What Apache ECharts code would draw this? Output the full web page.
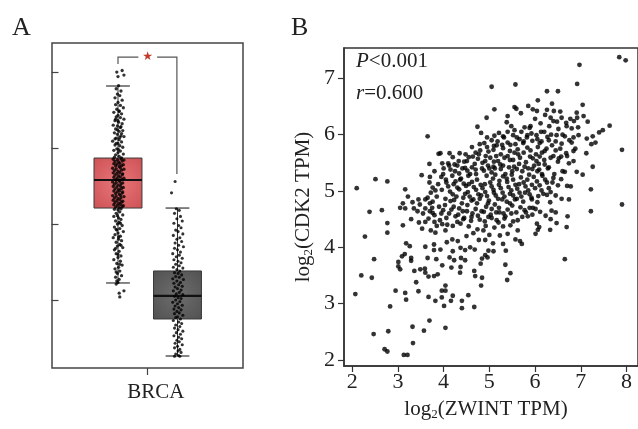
<!DOCTYPE html>
<html><head><meta charset="utf-8">
<script src="https://cdn.jsdelivr.net/npm/echarts@6/dist/echarts.min.js"></script>
<style>html,body{margin:0;padding:0;background:#fff}#c{width:638px;height:429px}</style>
</head><body><div id="c"></div>
<script>
// ---------- Panel A data ----------
const categoryA = ['BRCA'];
const groupPos = [1, 2];
// [low whisker, Q1, median, Q3, high whisker]
const boxStats = [[1.224, 2.21, 2.579, 2.868, 3.816], [0.263, 0.75, 1.053, 1.382, 2.21]];
const yTicksA = [1, 2, 3, 4];
const sigLabel = '★';
const redPoints = [
[0.98,4.00],[1.07,4.02],[1.10,3.96],[1.00,3.94],
[1.01,3.82],[0.97,3.78],[1.05,3.75],[0.99,3.71],[1.03,3.69],[0.95,3.66],[1.07,3.63],[1.00,3.60],[0.96,3.57],[1.04,3.56],[1.09,3.53],[0.98,3.51],[1.02,3.49],[0.93,3.47],[1.06,3.45],[1.00,3.43],[0.97,3.41],[1.04,3.40],[1.10,3.38],[0.95,3.36],[1.01,3.34],[1.07,3.32],[0.92,3.30],[0.99,3.29],[1.04,3.27],[0.96,3.25],[1.08,3.23],[1.02,3.22],[0.94,3.20],[0.99,3.18],[1.05,3.16],[1.10,3.15],[0.97,3.13],[1.02,3.11],[0.91,3.09],[1.06,3.08],[1.00,3.06],[0.95,3.04],[1.03,3.03],[1.08,3.01],[0.98,2.99],[0.93,2.97],[1.04,2.96],[1.00,2.94],[1.09,2.92],[0.96,2.91],[1.02,2.89],[0.94,2.88],[1.06,2.87],
[1.02,3.48],[0.96,3.38],[1.05,3.28],[0.99,3.24],[1.03,3.14],[0.97,3.06],[1.01,2.98],[1.06,3.19],[0.95,3.12],[1.00,3.36],
[0.92,2.852],[0.99,2.846],[1.05,2.857],[1.10,2.841],[0.95,2.823],[1.01,2.816],[1.07,2.828],[0.93,2.794],[0.98,2.787],[1.03,2.798],[1.09,2.781],[0.96,2.763],[1.02,2.757],[1.06,2.768],[0.91,2.734],[0.97,2.726],[1.04,2.738],[1.10,2.722],[0.94,2.703],[1.00,2.697],[1.06,2.708],[0.92,2.674],[0.98,2.667],[1.03,2.678],[1.08,2.661],[0.95,2.643],[1.01,2.636],[1.07,2.648],[0.93,2.614],[0.99,2.607],[1.04,2.618],[1.10,2.602],[0.96,2.583],[1.02,2.577],[1.07,2.588],[0.91,2.554],[0.97,2.547],[1.03,2.558],[1.08,2.541],[0.94,2.523],[1.00,2.516],[1.05,2.527],[0.92,2.494],[0.98,2.487],[1.04,2.498],[1.09,2.481],[0.95,2.463],[1.01,2.456],[1.06,2.467],[0.93,2.434],[0.99,2.427],[1.03,2.438],[1.08,2.421],[0.96,2.403],[1.02,2.396],[1.07,2.407],[0.91,2.374],[0.97,2.367],[1.04,2.378],[1.10,2.361],[0.94,2.343],[1.00,2.336],[1.05,2.347],[0.92,2.314],[0.98,2.307],[1.03,2.318],[1.08,2.301],[0.95,2.283],[1.01,2.276],[1.06,2.287],[0.93,2.254],[0.99,2.247],[1.04,2.258],[1.09,2.241],[0.96,2.223],[1.02,2.216],[1.07,2.227],[0.94,2.194],[1.00,2.187],[1.05,2.198],
[1.03,2.16],[0.97,2.14],[1.08,2.12],[0.93,2.10],[1.01,2.08],[1.05,2.06],[0.96,2.04],[1.02,2.02],[0.99,2.00],[1.07,1.98],[0.94,1.96],[1.03,1.94],[0.98,1.92],[1.09,1.90],[1.00,1.88],[0.95,1.86],[1.04,1.84],[0.92,1.82],[1.01,1.80],[1.06,1.78],[0.97,1.76],[1.03,1.73],[0.99,1.71],[1.08,1.69],[0.94,1.66],[1.02,1.64],[0.97,1.61],[1.05,1.58],[1.00,1.56],[0.93,1.53],[1.04,1.51],[0.98,1.48],[1.07,1.46],[1.01,1.43],[0.95,1.41],[1.03,1.38],[0.99,1.35],[1.06,1.32],[0.96,1.30],[1.02,1.27],[0.98,1.25],[1.00,1.23],
[0.99,2.11],[1.04,2.01],[0.97,1.93],[1.01,1.83],[1.05,1.72],[0.96,1.68],[1.00,1.60],[1.03,1.47],[0.97,1.37],
[1.02,1.09],[1.10,1.12],[1.03,1.04],[0.97,1.21]
];
const grayPoints = [
[1.96,2.56],[1.90,2.41],
[1.98,2.20],[2.03,2.18],[1.95,2.14],[2.05,2.10],[1.99,2.07],[2.08,2.04],[1.94,2.01],[2.02,1.98],[2.06,1.95],[1.97,1.92],[2.01,1.90],[2.09,1.87],[1.93,1.85],[2.04,1.82],[1.99,1.80],[2.07,1.77],[1.96,1.75],[2.02,1.72],[2.10,1.70],[1.95,1.68],[2.00,1.66],[2.05,1.63],[1.92,1.61],[2.03,1.59],[1.98,1.57],[2.08,1.55],[1.94,1.53],[2.01,1.51],[2.06,1.49],[1.97,1.47],[2.03,1.45],[1.93,1.43],[2.09,1.42],[1.99,1.40],
[2.04,1.38],[1.95,1.36],[2.01,1.35],[2.07,1.33],[1.97,1.31],[2.03,1.30],[1.92,1.28],[2.10,1.27],[1.99,1.25],[2.05,1.23],[1.94,1.22],[2.02,1.20],[2.08,1.18],[1.96,1.17],[2.00,1.15],[2.06,1.13],[1.93,1.12],[2.03,1.10],[1.98,1.08],[2.09,1.07],[1.95,1.05],[2.01,1.03],[2.06,1.02],[1.97,1.00],[2.04,0.98],[1.92,0.97],[2.00,0.95],[2.08,0.93],[1.96,0.92],[2.02,0.90],[1.94,0.88],[2.06,0.87],[1.99,0.85],[2.03,0.83],[1.95,0.82],[2.09,0.80],[2.00,0.78],[1.97,0.77],[2.05,0.75],
[1.93,0.73],[2.02,0.71],[2.07,0.69],[1.97,0.67],[2.04,0.65],[1.95,0.63],[2.01,0.61],[2.09,0.59],[1.98,0.57],[2.05,0.55],[1.94,0.53],[2.02,0.51],[2.07,0.49],[1.99,0.47],[2.03,0.45],[1.96,0.43],[2.08,0.41],[2.00,0.39],[1.95,0.37],[2.04,0.35],[2.01,0.33],[2.06,0.31],[1.97,0.29],[2.02,0.27],[1.95,0.26],[2.04,0.26]
];

// ---------- Panel B data ----------
const xTicksB = [2, 3, 4, 5, 6, 7, 8];
const yTicksB = [2, 3, 4, 5, 6, 7];
const statP = '<0.001';
const statR = '=0.600';
const scatterPoints = [
[7.84,7.375],[7.98,7.32],[6.97,7.24],[6.92,6.90],[6.26,6.77],[6.50,6.77],[6.06,6.61],[6.37,6.55],[7.04,6.53],[6.04,6.42],[6.26,6.44],[6.41,6.42],[6.55,6.41],[6.34,6.30],[6.58,6.30],[6.91,6.39],[6.92,6.30],[7.06,6.33],[6.77,6.28],[7.15,6.23],[6.40,6.24],[6.48,6.23],[6.68,6.21],[6.85,6.24],[6.69,6.15],[6.31,6.15],[6.51,6.10],[6.80,6.11],[6.94,6.13],[7.63,6.16],[7.48,6.08],[7.40,6.04],[6.13,6.05],[6.03,5.99],[6.27,5.96],[6.47,5.99],[6.65,5.97],[6.95,5.99],[6.84,5.95],[7.13,5.93],[7.26,5.97],[6.14,5.88],[6.37,5.81],[6.58,5.84],[6.80,5.86],[7.23,5.83],[7.32,5.86],[6.06,5.78],[6.21,5.71],[6.45,5.72],[6.68,5.67],[6.84,5.71],[7.12,5.67],[7.90,5.73],[6.10,5.61],[6.34,5.59],[6.57,5.61],[6.74,5.49],[6.03,5.53],[6.21,5.47],[6.50,5.52],[6.84,5.53],[7.26,5.43],[6.09,5.38],[6.28,5.40],[6.65,5.34],[6.91,5.34],[7.04,5.29],[6.16,5.27],[6.40,5.23],[6.57,5.21],[6.04,5.17],[6.26,5.15],[6.50,5.10],[6.70,5.09],[6.78,5.08],[6.14,5.01],[6.34,4.98],[7.22,5.03],[6.07,4.91],[6.26,4.93],[6.58,4.86],[6.74,4.85],[6.33,4.80],[7.90,4.76],
[5.05,6.85],[5.57,6.89],[5.11,6.45],[5.55,6.49],[5.59,6.46],[5.85,6.51],[4.94,6.30],[5.40,6.33],[5.69,6.38],[4.74,6.14],[4.82,6.03],[5.38,6.22],[5.48,6.15],[5.77,6.13],[5.90,6.15],[5.11,5.98],[5.21,6.03],[5.30,5.97],[5.52,5.99],[5.66,5.92],[5.83,5.99],[4.79,5.83],[4.89,5.85],[5.16,5.81],[5.40,5.86],[5.57,5.83],[5.74,5.85],[5.94,5.89],[4.13,5.67],[3.93,5.67],[4.64,5.61],[4.77,5.65],[4.98,5.70],[5.09,5.73],[5.30,5.76],[5.45,5.71],[5.62,5.74],[5.83,5.77],[4.33,5.53],[4.51,5.53],[3.97,5.49],[4.10,5.49],[4.24,5.47],[4.75,5.57],[4.91,5.53],[5.02,5.59],[5.19,5.53],[5.33,5.59],[5.52,5.55],[5.67,5.59],[5.89,5.61],[4.41,5.40],[4.62,5.42],[4.84,5.40],[5.09,5.43],[5.25,5.39],[5.43,5.42],[5.60,5.39],[5.77,5.43],[5.94,5.39],[3.99,5.30],[4.19,5.27],[4.34,5.31],[4.54,5.27],[4.71,5.30],[4.94,5.27],[5.13,5.29],[5.30,5.26],[5.49,5.29],[5.69,5.24],[5.87,5.29],[4.06,5.15],[4.26,5.17],[4.44,5.13],[4.62,5.16],[4.81,5.11],[5.02,5.15],[5.21,5.11],[5.39,5.16],[5.57,5.11],[5.75,5.15],[5.93,5.11],[3.96,5.02],[4.14,4.99],[4.34,5.03],[4.53,4.98],[4.71,5.02],[4.91,4.98],[5.09,5.02],[5.29,4.97],[5.48,5.01],[5.66,4.97],[5.85,5.01],[4.04,4.86],[4.23,4.84],[4.43,4.88],[4.61,4.83],[4.79,4.86],[4.99,4.83],[5.19,4.86],[5.38,4.81],[5.56,4.85],[5.74,4.81],[5.93,4.85],
[3.65,5.97],[3.89,5.66],[3.69,5.48],[2.10,5.05],[2.51,5.21],[2.77,5.17],[3.52,5.28],[3.16,5.03],[3.22,4.90],[3.69,5.15],[3.76,5.06],[3.72,4.97],[3.82,5.01],[3.65,4.88],[3.76,4.81],[3.32,4.80],[3.11,4.78],[3.48,4.76],
[2.38,4.63],[2.65,4.66],[3.05,4.70],[3.16,4.69],[3.35,4.69],[3.43,4.64],[3.60,4.69],[3.70,4.64],[3.76,4.61],[3.67,4.51],[3.80,4.45],[3.29,4.50],[3.46,4.44],[3.53,4.33],[3.11,4.39],[2.77,4.43],[2.77,4.26],[3.72,4.30],[3.82,4.26],[2.28,4.19],[3.18,4.07],[3.26,4.02],[3.60,4.01],[3.79,4.05],[3.79,3.95],[3.15,3.88],[3.09,3.84],[3.29,3.81],[3.29,3.76],[3.65,3.81],[3.84,3.79],[2.48,3.79],[3.01,3.74],[3.01,3.66],[3.05,3.61],[3.36,3.58],[3.49,3.61],[3.59,3.62],[3.60,3.55],[3.67,3.48],[3.79,3.49],[3.87,3.52],[2.20,3.50],[2.43,3.46],[3.40,3.38],[2.95,3.23],[3.16,3.19],[3.18,3.07],[3.45,3.22],[3.67,3.12],[3.82,3.05],[2.07,3.17],[2.83,2.95],[3.69,2.70],[3.32,2.59],[3.57,2.52],[2.79,2.51],[2.47,2.46],[3.33,2.30],[2.71,2.19],[2.77,2.15],[3.13,2.09],[3.21,2.09],
[3.99,4.66],[4.17,4.67],[4.34,4.69],[4.51,4.64],[4.70,4.68],[4.88,4.63],[5.05,4.68],[5.22,4.62],[5.40,4.67],[5.59,4.62],[5.77,4.66],[5.94,4.58],[4.06,4.52],[4.26,4.55],[4.43,4.50],[4.61,4.54],[4.79,4.49],[4.98,4.54],[5.16,4.48],[5.33,4.51],[5.52,4.46],[5.72,4.54],[5.84,4.55],[3.97,4.41],[4.20,4.38],[4.37,4.42],[4.55,4.37],[4.74,4.32],[4.92,4.38],[5.11,4.35],[5.30,4.37],[5.46,4.39],[5.62,4.30],[4.04,4.30],[4.87,4.30],[5.23,4.21],[5.40,4.24],[5.57,4.14],[5.67,4.11],[5.71,4.06],[4.77,4.13],[4.91,4.13],[5.08,4.07],[4.07,4.09],[4.19,4.14],[4.31,4.11],[5.30,4.06],[3.93,3.96],[4.20,3.93],[4.37,3.99],[4.47,3.95],[4.58,4.00],[4.68,3.96],[4.98,3.94],[5.09,3.93],[5.36,3.94],[4.91,3.86],[4.96,3.82],[4.13,3.82],[4.23,3.77],[4.38,3.81],[4.47,3.77],[4.84,3.80],[4.81,3.71],[5.35,3.69],[3.97,3.68],[4.17,3.64],[4.37,3.65],[4.67,3.58],[4.69,3.49],[4.36,3.55],[4.84,3.46],[5.46,3.54],[5.39,3.42],[4.82,3.32],[4.04,3.32],[3.96,3.23],[4.04,3.23],[4.20,3.14],[4.54,3.15],[3.96,3.11],[4.16,3.05],[4.40,3.05],[4.01,2.96],[4.40,2.92],[4.67,2.94],[4.04,2.57],
[6.01,4.68],[6.11,4.63],[6.23,4.56],[6.36,4.65],[6.45,4.62],[6.71,4.55],[6.34,4.50],[6.47,4.43],[6.69,4.36],[6.33,4.31],[6.04,4.42],[6.09,4.36],[6.06,4.31],[6.01,4.24],[7.22,4.64],[6.65,3.79],
[4.25,5.35],[4.38,5.22],[4.47,5.41],[4.58,5.30],[4.68,5.48],[4.88,5.36],[4.97,5.45],[5.05,5.33],[5.15,5.62],[5.24,5.47],[5.35,5.30],[5.45,5.55],[5.54,5.43],[5.63,5.65],[5.72,5.35],[5.80,5.51],[5.90,5.72],[5.98,5.45],
[4.10,5.08],[4.20,4.94],[4.30,5.06],[4.40,4.78],[4.49,5.09],[4.57,4.90],[4.66,5.07],[4.76,4.94],[4.85,5.05],[4.95,4.91],[5.05,5.08],[5.14,4.92],[5.25,5.05],[5.33,4.90],[5.42,5.07],[5.52,4.92],[5.61,5.04],[5.70,4.90],[5.79,5.08],[5.88,4.94],[5.97,5.25],
[4.03,4.75],[4.12,4.60],[4.22,4.72],[4.32,4.58],[4.42,4.64],[4.52,4.75],[4.63,4.60],[4.73,4.78],[4.83,4.64],[4.93,4.72],[5.03,4.58],[5.12,4.76],[5.21,4.70],[5.31,4.60],[5.50,4.74],[5.68,4.71],[5.88,4.70],
[3.85,4.90],[3.90,4.72],[3.88,5.12],[3.80,4.57],[3.92,4.48],[3.70,4.78],[3.60,4.85],[3.55,4.60],[3.45,4.85],
[5.18,5.88],[5.32,5.95],[5.46,5.82],[5.60,5.95],[5.70,6.05],[5.82,5.95],[5.92,6.02],[5.05,5.90],[4.95,5.78],[4.80,5.72],[4.62,5.78],[4.48,5.65],[4.35,5.67],[4.20,5.60],[4.45,5.52],[4.00,5.40],[3.95,5.25],[4.15,5.38],
[6.02,5.65],[6.10,5.85],[6.20,5.55],[6.15,5.30],[6.25,5.75],[6.00,5.05],[6.05,4.80],[6.18,4.95],[6.30,5.05],[6.42,5.30],[6.52,5.58],[6.35,6.00],[6.12,6.20],[6.00,6.28],[5.95,6.45],[6.22,6.35],
[4.30,4.45],[4.45,4.52],[4.60,4.47],[4.75,4.56],[4.90,4.46],[5.05,4.52],[5.20,4.44],[5.35,4.55],[5.48,4.60],[5.62,4.48],[5.80,4.62],[5.95,4.70],
[4.15,4.82],[4.28,4.90],[4.47,4.95],[4.65,4.85],[4.82,4.92],[4.97,4.78],[5.10,4.97],[5.28,4.85],[5.45,4.95],[5.60,4.86],[5.78,4.97],[5.92,4.88],
[4.05,5.20],[4.22,5.12],[4.36,5.20],[4.55,5.12],[4.73,5.20],[4.90,5.12],[5.08,5.22],[5.22,5.18],[5.38,5.22],[5.52,5.20],[5.65,5.12],[5.83,5.20],[6.05,5.35],
[4.12,5.45],[4.30,5.45],[4.52,5.36],[4.70,5.38],[4.85,5.50],[5.00,5.40],[5.12,5.40],[5.30,5.45],[5.50,5.35],[5.65,5.48],[5.85,5.40],[6.08,5.48],[6.30,5.42],
[4.55,5.60],[4.70,5.68],[4.92,5.62],[5.10,5.52],[5.25,5.65],[5.40,5.62],[5.55,5.68],[5.75,5.68],[5.95,5.58],[6.15,5.68],[6.40,5.62],
[4.95,5.95],[5.10,5.80],[5.28,5.82],[5.40,6.05],[5.55,6.08],[5.75,5.88],[5.88,6.12],[6.05,5.92],[6.20,6.05],[6.45,5.88],[6.60,6.00],
[3.60,4.45],[3.75,4.70],[3.85,4.38],[3.95,4.60],[4.08,4.40],[3.70,5.25],[3.80,5.35],[4.50,4.20],[4.65,4.25],[5.00,4.22],[5.15,4.62],[5.45,4.78],
[6.10,5.10],[6.22,5.20],[6.38,5.15],[6.45,4.92],[6.60,5.35],[6.70,5.62],[6.55,5.75],[6.30,5.90],[6.75,5.90],[6.88,5.75]
];

// ---------- chart ----------
const FONT = 'Liberation Serif';
const chart = echarts.init(document.getElementById('c'), null, {renderer: 'canvas'});
const boxFills = [
  new echarts.graphic.RadialGradient(0.5, 0.5, 0.75, [{offset: 0, color: '#e8777a'}, {offset: 1, color: '#cc4f53'}]),
  new echarts.graphic.RadialGradient(0.5, 0.5, 0.75, [{offset: 0, color: '#6e6e6e'}, {offset: 1, color: '#4f4f4f'}])
];
const BOX_HW = 0.403, CAP_HW = 0.2;
function renderBox(params, api) {
  const x = api.value(0), lo = api.value(1), q1 = api.value(2), md = api.value(3), q3 = api.value(4), hi = api.value(5);
  const tl = api.coord([x - BOX_HW, q3]), br = api.coord([x + BOX_HW, q1]);
  const mL = api.coord([x - BOX_HW, md]), mR = api.coord([x + BOX_HW, md]);
  const hL = api.coord([x - CAP_HW, hi]), hR = api.coord([x + CAP_HW, hi]);
  const lL = api.coord([x - CAP_HW, lo]), lR = api.coord([x + CAP_HW, lo]);
  const c = api.coord([x, hi]), cb = api.coord([x, lo]);
  return {type: 'group', children: [
    {type: 'line', shape: {x1: c[0], y1: c[1], x2: c[0], y2: cb[1]}, style: {stroke: '#333', lineWidth: 1}},
    {type: 'rect', shape: {x: tl[0], y: tl[1], width: br[0] - tl[0], height: br[1] - tl[1]}, style: {fill: boxFills[params.dataIndex], stroke: '#3a3a3a', lineWidth: 1}},
    {type: 'line', shape: {x1: mL[0], y1: mL[1], x2: mR[0], y2: mR[1]}, style: {stroke: '#111', lineWidth: 2.2}},
    {type: 'line', shape: {x1: hL[0], y1: hL[1], x2: hR[0], y2: hR[1]}, style: {stroke: '#333', lineWidth: 1.2}},
    {type: 'line', shape: {x1: lL[0], y1: lL[1], x2: lR[0], y2: lR[1]}, style: {stroke: '#333', lineWidth: 1.2}}
  ]};
}
function renderBracket(params, api) {
  const top = 4.197;
  const a0 = api.coord([groupPos[0], 4.105]), a1 = api.coord([groupPos[0], top]);
  const b1 = api.coord([groupPos[1] - 0.01, top]), b0 = api.coord([groupPos[1] - 0.01, 2.658]);
  const m = api.coord([(groupPos[0] + groupPos[1]) / 2, top]);
  return {type: 'group', children: [
    {type: 'polyline', shape: {points: [a0, a1, b1, b0]}, style: {stroke: '#555', lineWidth: 1.2, fill: null}},
    {type: 'text', x: m[0], y: m[1], style: {text: sigLabel, fill: '#c0392b', font: '12px DejaVu Sans', align: 'center', verticalAlign: 'middle', backgroundColor: '#fff', padding: [0, 4]}}
  ]};
}

const option = {
  animation: false,
  backgroundColor: '#fff',
  graphic: [
    {type: 'text', left: 12, top: 15, style: {text: 'A', font: '26px "Liberation Serif"', fill: '#222'}},
    {type: 'text', left: 291, top: 15, style: {text: 'B', font: '26px "Liberation Serif"', fill: '#222'}},
    {type: 'text', left: 356, top: 51, style: {text: '{i|P}' + statP, font: '21px "Liberation Serif"', fill: '#222', rich: {i: {fontStyle: 'italic', fontFamily: FONT, fontSize: 21, fill: '#222'}}}},
    {type: 'text', left: 356, top: 83, style: {text: '{i|r}' + statR, font: '21px "Liberation Serif"', fill: '#222', rich: {i: {fontStyle: 'italic', fontFamily: FONT, fontSize: 21, fill: '#222'}}}}
  ],
  grid: [
    {left: 52, top: 43, width: 191, height: 325, show: true, borderColor: '#444', borderWidth: 1.5, containLabel: false},
    {left: 344, top: 48, right: -6, bottom: 63, show: true, borderColor: '#333', borderWidth: 1.5, containLabel: false}
  ],
  xAxis: [
    {gridIndex: 0, type: 'value', min: -0.109, max: 3.101, splitLine: {show: false},
     axisLine: {show: false},
     axisTick: {show: true, length: 7, lineStyle: {color: '#444', width: 1.2}, customValues: [1.5]},
     axisLabel: {show: true, customValues: [1.5], formatter: () => categoryA[0], fontFamily: FONT, fontSize: 21, color: '#222', margin: 14, padding: [0, 0, 0, 16]}},
    {gridIndex: 1, type: 'value', min: 1.822, max: 8.25, splitLine: {show: false},
     axisLine: {show: true, lineStyle: {color: '#333', width: 1.5}},
     axisTick: {show: true, length: 6, lineStyle: {color: '#333', width: 1.2}, customValues: xTicksB},
     axisLabel: {show: true, customValues: xTicksB, fontFamily: FONT, fontSize: 22, color: '#222', margin: 5},
     name: 'log{sub|2}(ZWINT TPM)', nameLocation: 'middle', nameGap: 32,
     nameTextStyle: {fontFamily: FONT, fontSize: 21, color: '#222', padding: [0, 0, 0, -10], rich: {sub: {fontFamily: FONT, fontSize: 13, color: '#222', padding: [10, 0, 0, 0]}}}}
  ],
  yAxis: [
    {gridIndex: 0, type: 'value', min: 0.105, max: 4.382, splitLine: {show: false},
     axisLine: {show: false},
     axisTick: {show: true, length: 7, lineStyle: {color: '#444', width: 1.2}, customValues: yTicksA},
     axisLabel: {show: false}},
    {gridIndex: 1, type: 'value', min: 1.893, max: 7.538, splitLine: {show: false},
     axisLine: {show: true, lineStyle: {color: '#333', width: 1.5}},
     axisTick: {show: true, length: 6, lineStyle: {color: '#333', width: 1.2}, customValues: yTicksB},
     axisLabel: {show: true, customValues: yTicksB, fontFamily: FONT, fontSize: 22, color: '#222', margin: 9},
     name: 'log{sub|2}(CDK2 TPM)', nameLocation: 'middle', nameGap: 29, nameRotate: 90,
     nameTextStyle: {fontFamily: FONT, fontSize: 21, color: '#222', padding: [0, 0, 0, 0], rich: {sub: {fontFamily: FONT, fontSize: 13, color: '#222', padding: [10, 0, 0, 0]}}}}
  ],
  series: [
    {type: 'custom', xAxisIndex: 0, yAxisIndex: 0, z: 1, renderItem: renderBox,
     data: boxStats.map((s, i) => [groupPos[i]].concat(s)), clip: false},
    {type: 'scatter', xAxisIndex: 0, yAxisIndex: 0, z: 2, data: redPoints, symbolSize: 3.3, itemStyle: {color: '#000'}, silent: true},
    {type: 'scatter', xAxisIndex: 0, yAxisIndex: 0, z: 2, data: grayPoints, symbolSize: 3.1, itemStyle: {color: '#000'}, silent: true},
    {type: 'custom', xAxisIndex: 0, yAxisIndex: 0, z: 3, renderItem: renderBracket, data: [[0]], clip: false},
    {type: 'scatter', xAxisIndex: 1, yAxisIndex: 1, z: 2, data: scatterPoints, symbolSize: 4.8, itemStyle: {color: '#000'}, silent: true}
  ]
};
chart.setOption(option);
</script>
</body></html>
